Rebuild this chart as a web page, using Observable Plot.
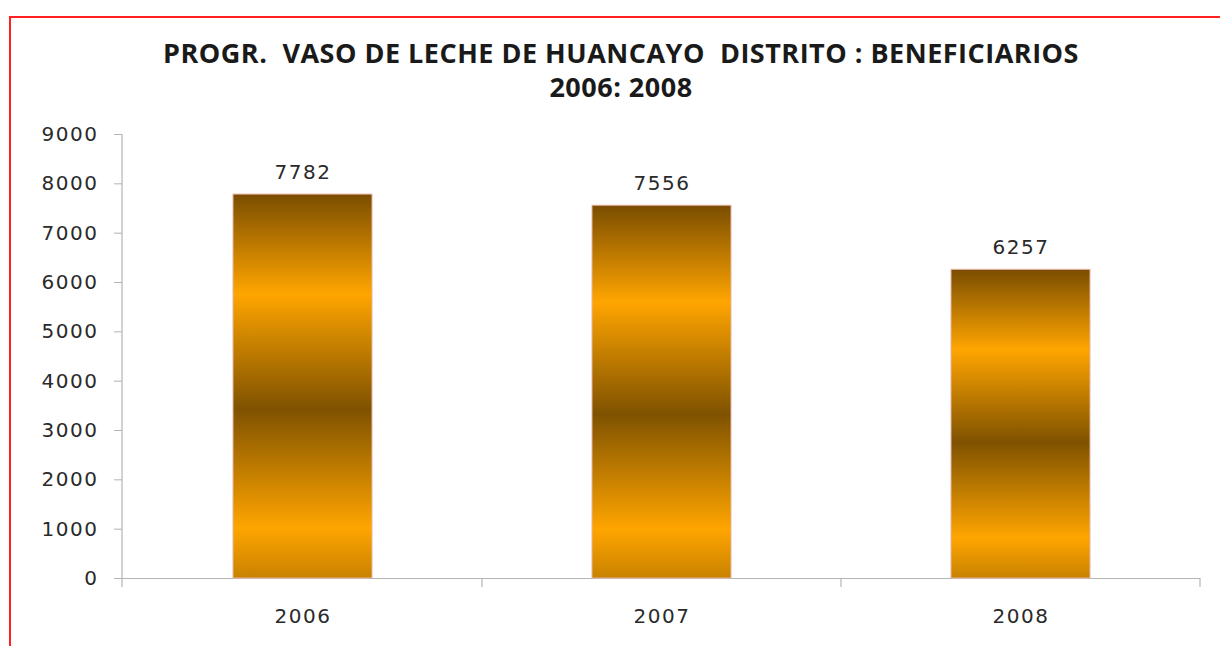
<!DOCTYPE html>
<html>
<head>
<meta charset="utf-8">
<script src="https://cdn.jsdelivr.net/npm/d3@7"></script>
<script src="https://cdn.jsdelivr.net/npm/@observablehq/plot@0.6"></script>
<style>
  html, body { margin: 0; padding: 0; background: #fff; }
  #wrap { position: relative; width: 1220px; height: 646px; overflow: hidden; }
  #frame { position: absolute; left: 9px; top: 16px; width: 1230px; height: 660px;
           border-top: 2px solid #ff2020; border-left: 2px solid #ff2020; box-sizing: border-box; }
  #title { position: absolute; left: 11px; top: 36px; width: 1220px; text-align: center;
           font-family: "Open Sans", sans-serif; font-weight: bold; font-size: 27px; line-height: 34px;
           letter-spacing: 0.5px; color: #1a1a1a; white-space: pre; }
  #chart { position: absolute; left: 0; top: 110px; }
  #chart svg text { letter-spacing: 1.5px; }
</style>
</head>
<body>
<div id="wrap">
  <div id="frame"></div>
  <div id="title"></div>
  <div id="chart"></div>
</div>
<script>
const titleLines = ["PROGR.  VASO DE LECHE DE HUANCAYO  DISTRITO : BENEFICIARIOS", "2006: 2008"];
const years = ["2006", "2007", "2008"];
const beneficiarios = [7782, 7556, 6257];
const yTicks = [0, 1000, 2000, 3000, 4000, 5000, 6000, 7000, 8000, 9000];

document.getElementById("title").textContent = titleLines.join("\n");

const data = years.map((y, i) => ({year: y, value: beneficiarios[i]}));

const gradientDefs = () => {
  const defs = d3.create("svg:defs");
  const g = defs.append("linearGradient").attr("id", "barGrad")
    .attr("x1", 0).attr("y1", 0).attr("x2", 0).attr("y2", 1);
  [[0, "#7a4d00"], [0.26, "#ffa500"], [0.56, "#7f5200"], [0.87, "#ffa500"], [1, "#c88200"]]
    .forEach(([o, c]) => g.append("stop").attr("offset", o).attr("stop-color", c));
  return defs.node();
};

const axisLines = (index, scales, values, dims) => {
  const g = d3.create("svg:g").attr("stroke", "#b4b4b4").attr("stroke-width", 1.2).attr("fill", "none");
  const x = scales.x;
  const bw = x.bandwidth ? x.bandwidth() : (dims.width - dims.marginLeft - dims.marginRight) / years.length;
  const y0 = scales.y(0), y1 = scales.y(9000);
  const left = dims.marginLeft;
  g.append("line").attr("x1", left).attr("x2", left).attr("y1", y1).attr("y2", y0 + 9);
  years.forEach(yr => {
    const xe = x(yr) + bw;
    g.append("line").attr("x1", xe).attr("x2", xe).attr("y1", y0).attr("y2", y0 + 9);
  });
  return g.node();
};

const chart = Plot.plot({
  width: 1220,
  height: 536,
  marginLeft: 122,
  marginRight: 20,
  marginTop: 24,
  marginBottom: 68,
  style: {fontFamily: "DejaVu Sans, sans-serif", color: "#2a2a2a", background: "transparent"},
  x: {domain: years, padding: 0, label: null},
  y: {domain: [0, 9000], label: null},
  marks: [
    gradientDefs,
    Plot.ruleY([0], {stroke: "#b4b4b4", strokeWidth: 1.2}),
    Plot.barY(data, {x: "year", y: "value", fill: "url(#barGrad)", insetLeft: 110, insetRight: 110,
                     stroke: "#e6b4a4", strokeWidth: 1}),
    Plot.text(data, {x: "year", y: "value", text: d => String(d.value), dy: -22, lineAnchor: "middle",
                     fontSize: 20, fill: "#2a2a2a"}),
    Plot.axisY({ticks: yTicks, tickFormat: d => String(d), tickSize: 8, tickPadding: 16,
                fontSize: 20, stroke: "#b4b4b4", label: null}),
    Plot.axisX({tickSize: 0, tickPadding: 30, fontSize: 20, label: null}),
    axisLines
  ]
});
document.getElementById("chart").appendChild(chart);
</script>
</body>
</html>
